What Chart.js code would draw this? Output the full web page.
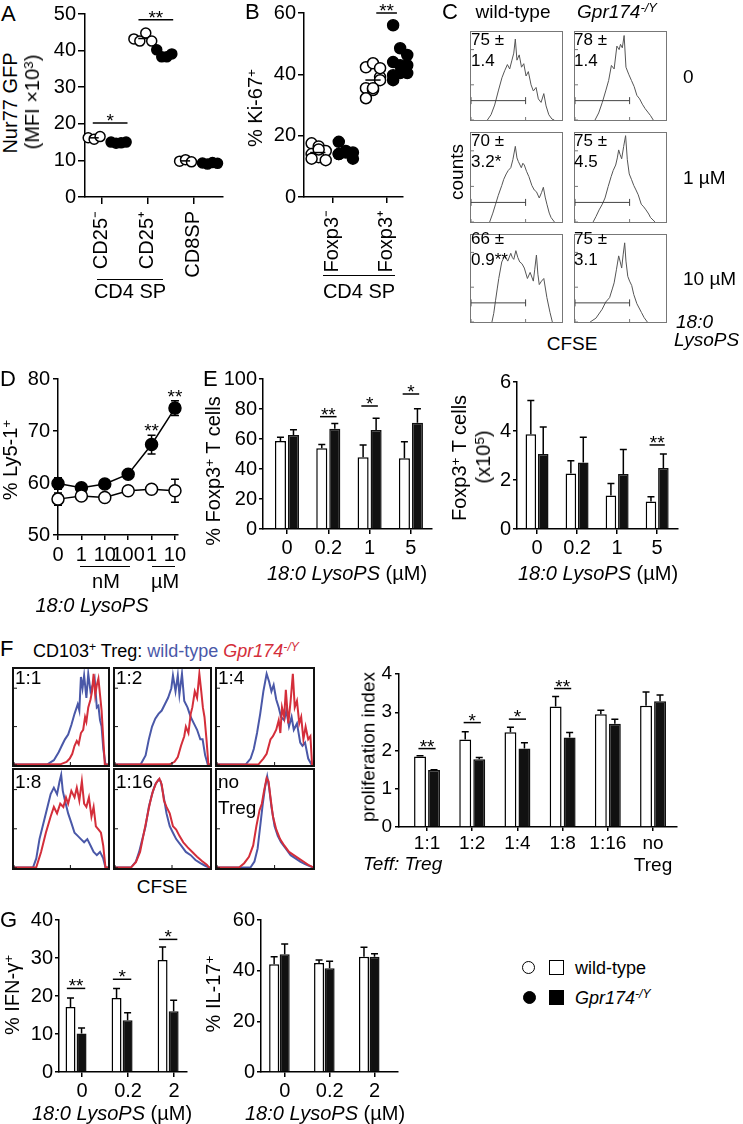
<!DOCTYPE html>
<html>
<head>
<meta charset="utf-8">
<script src="https://cdn.jsdelivr.net/npm/chart.js@4.4.1/dist/chart.umd.min.js"></script>
<style>
html, body { margin: 0; padding: 0; background: #fff; }
#fig { position: relative; width: 743px; height: 1124px; overflow: hidden; font-family: 'Liberation Sans', Arial, Helvetica, sans-serif; color: #000; }
#fig div { position: absolute; white-space: nowrap; line-height: 1; }
#fig canvas { position: absolute; }
.s { position: relative; top: -0.45em; font-size: 0.68em; }
</style>
</head>
<body>
<div id="fig"></div>
<script>
// ---------- data ----------
const aGroups = ['CD25⁻', 'CD25⁺', 'CD8SP'];
const aWT = [[16.2, 15.8, 16.5], [43.2, 42.6, 44.8, 42.6], [9.8, 10.2, 9.6]];
const aKO = [[15.0, 14.7, 14.8, 15.0], [40.2, 38.3, 38.3, 39.1], [9.3, 9.0, 9.4, 9.2]];
const aSig = [{at: 1, y: 20.2, label: '*'}, {at: 2, y: 48.4, label: '**'}];

const bGroups = ['Foxp3⁻', 'Foxp3⁺'];
const bWT = [[17.5, 16.5, 15, 14, 13, 12, 12.5, 15.5], [42.3, 43.6, 39.1, 35.5, 34.9, 38.1, 32.2, 35.5, 42.0]];
const bKO = [[18, 15, 14.5, 14, 14.5, 12.5, 14], [56.0, 48.5, 46.3, 44.0, 43.0, 43.0, 39.7, 40.4, 40.4, 38.1]];
const bSig = [{at: 2, y: 60, label: '**'}];

// CFSE histograms (x = % of box width, y = % of box height)
const cWT0 = [[18,0],[22,6],[26,17],[30,33],[34,48],[37,56],[40,63],[42.5,58],[45,68],[47,76],[48.7,92],[50.5,68],[53,74],[55.5,60],[58,64],[60.5,50],[63,55],[66,40],[68.5,33],[71.5,37],[74,24],[77,20],[80,30],[82.5,16],[85.5,6],[89,1],[91.5,0]];
const cKO0 = [[22,0],[26,8],[30,20],[34,34],[37,45],[40,62],[43,58],[46,84],[48.5,80],[50,86],[52,82],[54,96],[56,60],[59,52],[62,45],[65,38],[68,28],[71,24],[74,18],[77,13],[80,9],[83,5],[86,0]];
const cWT1 = [[20.5,0],[24,10],[27,20],[30,30],[33.8,41],[36,48],[38.7,54],[41,58],[43.7,61],[46,70],[48.7,85],[50.5,72],[52,68],[55.3,61],[57,66],[58.6,64],[61,57],[63.6,51],[66.9,41],[69.5,36],[71.9,34],[75,27],[77.5,33],[79.5,39],[81.5,28],[83.4,20],[86,10],[88,5],[91.7,0]];
const cKO1 = [[19.9,0],[23,6],[26.5,13.6],[30,20],[33,27],[36.5,40],[39.7,51],[42,58],[44.7,64],[46.5,72],[48,81],[49.5,76],[51.3,71],[53.5,85],[55.6,97],[57.5,70],[59.6,54],[62,48],[64.6,41],[67,36],[69.5,30.5],[72.8,20],[75.5,17],[78,13.6],[81,9],[83,5],[88,0]];
const cWT2 = [[23,0],[25,10],[27,25],[28.8,38],[30.5,50],[33.8,69],[37,76],[40.4,70],[43.7,79],[45.5,74],[47,72],[49.3,82],[51.5,74],[53.6,69],[56,67],[58.6,62],[62,50],[65,57],[68.5,47],[70,60],[71.9,77],[73.5,55],[75,43],[77.5,47],[80,50],[83.4,28],[86.8,11],[89.4,0]];
const cKO2 = [[16.6,0],[23,4.4],[29.8,14.6],[33.8,23],[38,28],[41,38],[43,45],[45.5,60],[48,76],[49.5,70],[51.3,62],[53,78],[54.6,91],[56,70],[58,52.5],[60,47],[62.3,42],[64.6,31.5],[68,21],[73,11],[76,5],[79.5,0]];
const cGate = [[0, 22], [60, 22]];
const cWTtext = ['75 ±<br>1.4', '70 ±<br>3.2*', '66 ±<br>0.9**'];
const cKOtext = ['78 ±<br>1.4', '75 ±<br>4.5', '75 ±<br>3.1'];
const cDoses = ['0', '1 µM', '10 µM'];

const dLabels = ['0', '1', '10', '100', '1', '10'];
const dWT = [56.9, 57.5, 57.2, 58.5, 58.8, 58.5];
const dWTerr = [1.2, 0.5, 0.6, 0.4, 0.5, 2.2];
const dKO = [59.9, 59.1, 59.8, 61.7, 67.4, 74.4];
const dKOerr = [1.1, 0.5, 0.8, 0.5, 1.8, 1.4];
const dSig = [{at: 4, y: 68.8, label: '**'}, {at: 5, y: 75.4, label: '**'}];

const eLabels = ['0', '0.2', '1', '5'];
const ePctWT = [58.7, 53.8, 47.8, 47.1];
const ePctWTerr = [2.4, 2.6, 8.2, 11];
const ePctKO = [62.7, 66.9, 66, 70.9];
const ePctKOerr = [3.5, 3.5, 7.8, 9.3];
const ePctSig = [{at: 2, y: 74.9, label: '**'}, {at: 3, y: 82, label: '*'}, {at: 4, y: 90, label: '*'}];
const eNumWT = [3.87, 2.27, 1.37, 1.12];
const eNumWTerr = [1.37, 0.52, 0.49, 0.2];
const eNumKO = [3.06, 2.71, 2.24, 2.49];
const eNumKOerr = [1.1, 1.03, 1.0, 0.57];
const eNumSig = [{at: 4, y: 3.43, label: '**'}];

const fRatios = ['1:1', '1:2', '1:4', '1:8', '1:16', ['no', 'Treg']];
const fBoxText = ['1:1', '1:2', '1:4', '1:8', '1:16', 'no<br>Treg'];
const f11B = [[0,0.5],[35.6,0.7],[42.4,5],[47.5,13.3],[50.8,20],[54.2,26.7],[57.6,31.7],[61,41.7],[64.4,53.3],[67.8,63.3],[69.5,56.7],[71.2,91.7],[72.9,80],[74.6,93.3],[77,70],[79,95],[81.4,76.7],[83.7,83.3],[85.8,90],[88.1,60],[89.8,61.7],[91.5,46.7],[93.2,40],[95,16.7],[97.3,0.7],[100,0.5]];
const f11R = [[0,0.5],[49.2,0.7],[55.9,3.3],[59.3,6.7],[62,11.7],[64.4,20],[66.8,25],[68.8,21.7],[71.2,33.3],[73.6,36.7],[75.6,50],[77,45],[79,60],[81.4,68.3],[83,76.7],[84.7,95],[86.4,73.3],[88.1,83.3],[89.8,90],[91.5,73.3],[93.2,56.7],[95,26.7],[96.6,0.7],[100,0.5]];
const f12B = [[0,0.5],[27.1,0.7],[32.2,10],[35.6,26.7],[39,40],[42.4,48.3],[45.8,53.3],[49.2,56.7],[52.5,63.3],[55.9,70],[59.3,80],[61,93.3],[63.7,76.7],[66.1,93.3],[67.8,73.3],[70.5,95],[72.9,66.7],[76.3,60],[79.7,50],[83,43.3],[86.4,36.7],[89.8,26.7],[92.2,26.7],[94.9,10],[97.6,0.7],[100,0.5]];
const f12R = [[0,0.5],[57.6,0.7],[62.7,3.3],[66.1,8.3],[69.5,20],[72.9,30],[74.6,40],[77.3,33.3],[79.7,53.3],[81.4,60],[84,76.7],[86.4,70],[88.8,95],[90.8,76.7],[92.5,60],[94.2,50],[96.3,26.7],[98.3,0.7],[100,0.5]];
const f14B = [[0,0.5],[30,0.7],[35,6.7],[38.3,16.7],[41.7,33.3],[45,53.3],[48.3,76.7],[51.7,95],[54.3,86.7],[56.7,76.7],[59,83.3],[61.7,68.3],[64.3,60],[66.7,50],[70,46.7],[72.3,56.7],[75,40],[77.7,50],[80,36.7],[83.3,43.3],[86.7,23.3],[89,20],[91.7,23.3],[95,6.7],[98.3,0.7],[100,0.5]];
const f14R = [[0,0.5],[43.3,0.7],[48.3,6.7],[51.7,11.7],[55.7,26.7],[58.3,30],[61.7,36.7],[64.3,46.7],[66,33.3],[67.7,60],[70,50],[71.7,78.3],[74.3,43.3],[76.7,66.7],[79,95],[81,60],[83.3,66.7],[85.7,43.3],[87.7,50],[90,26.7],[92.3,40],[95,26.7],[97.3,30],[99,0.7],[100,0.5]];
const f18B = [[0,0.5],[20.3,0.7],[23.7,9.8],[27.1,29.5],[30.5,42.6],[35.6,62.3],[39,75.4],[42.4,82],[45.8,75.4],[48.5,88.5],[50.2,95],[51.9,78.7],[54.2,68.9],[57.6,55.7],[61,46],[64.4,36],[67.8,32.8],[71.2,29.5],[74.6,26.2],[78,29.5],[81.4,23],[84.7,16.4],[88.1,13.1],[91.5,16.4],[94.9,9.8],[97.3,0.7],[100,0.5]];
const f18R = [[0,0.5],[23.7,0.7],[28.8,16.4],[33.9,36],[39,52.5],[42.4,62.3],[45.8,55.7],[49.2,65.6],[52.5,62.3],[55.3,72.1],[57.6,65.6],[61,78.7],[64.4,72.1],[66.8,82],[69.5,68.9],[72.2,88.5],[74.6,65.6],[77,62.3],[79.7,72.1],[82.4,52.5],[84.7,62.3],[87.1,42.6],[89.8,39.3],[92.5,36],[94.9,23],[97.3,0.7],[100,0.5]];
const f116B = [[0,0.5],[17,0.7],[22,6.6],[25.4,16.4],[28.8,29.5],[32.2,42.6],[35.6,62.3],[39,75.4],[42.4,85.2],[45.8,90.2],[48.1,88.5],[50.8,75.4],[54.2,55.7],[57.6,42.6],[61,36],[64.4,29.5],[69.5,23],[74.6,16.4],[79.7,13.1],[84.7,8.2],[89.8,4.9],[94.9,2.3],[98.3,0.7],[100,0.5]];
const f116R = [[0,0.5],[17,0.7],[22,5.9],[26.4,16.4],[29.8,32.8],[33.2,49.2],[36.6,65.6],[40,78.7],[43.4,86.9],[46.8,91.1],[49.2,85.2],[51.5,68.9],[54.2,62.3],[57.6,55.7],[61,42.6],[64.4,39.3],[67.8,32.8],[71.9,26.2],[76.3,21.3],[81.4,16.4],[86.4,11.5],[91.5,7.2],[96.6,3.3],[99,0.7],[100,0.5]];
const fNoB = [[0,0.5],[35,0.7],[39,6.6],[42.3,19.7],[45,42.6],[47.7,65.6],[50,82],[52.3,93.4],[54.3,82],[56.7,62.3],[60,42.6],[63.3,32.8],[66.7,26.2],[71.7,19.7],[76.7,13.1],[81.7,9.8],[86.7,6.6],[91.7,3.9],[98.3,1.3],[100,0.5]];
const fNoR = [[0,0.5],[23.3,0.7],[28.3,4.9],[33.3,11.5],[37.7,23],[41,42.6],[44.3,59],[46.7,65.6],[49,78.7],[51.7,91.8],[53.7,88.5],[55.7,72.1],[58.3,52.5],[61.7,39.3],[65.7,29.5],[70,23],[75,16.4],[80,13.1],[85,9.8],[90,6.6],[95,3.3],[99,1.3],[100,0.5]];
const fWT = [1.84, 2.29, 2.48, 3.15, 2.95, 3.17];
const fWTerr = [0.02, 0.2, 0.13, 0.26, 0.1, 0.36];
const fKO = [1.49, 1.77, 2.05, 2.34, 2.7, 3.29];
const fKOerr = [0.01, 0.05, 0.15, 0.13, 0.12, 0.16];
const fSig = [{at: 1, y: 2.05, label: '**'}, {at: 2, y: 2.73, label: '*'}, {at: 3, y: 2.82, label: '*'}, {at: 4, y: 3.62, label: '**'}];

const gLabels = ['0', '0.2', '2'];
const gIfnWT = [17.1, 19.5, 29.5];
const gIfnWTerr = [2.4, 2.5, 3.4];
const gIfnKO = [10.1, 13.6, 16];
const gIfnKOerr = [1.5, 2, 2.9];
const gIfnSig = [{at: 1, y: 22, label: '**'}, {at: 2, y: 24.4, label: '*'}, {at: 3, y: 34.9, label: '*'}];
const gIl17WT = [42.5, 43, 45.5];
const gIl17WTerr = [3, 1.2, 3.7];
const gIl17KO = [46.5, 41, 45.5];
const gIl17KOerr = [4, 2.7, 1.2];

// ---------- helpers ----------
const FONT = "'Liberation Sans', Arial, Helvetica, sans-serif";
Chart.defaults.font.family = FONT;
Chart.defaults.font.size = 20;
Chart.defaults.color = '#000';

const fig = document.getElementById('fig');
const BLUE = '#4a58a8';
const RED = '#d42e3a';
const sup = s => `<span class="s">${s}</span>`;

function text(html, x, base, size, align, extra) {
    const d = document.createElement('div');
    d.innerHTML = html;
    const tf = align === 'center' ? 'translateX(-50%)' : align === 'right' ? 'translateX(-100%)' : 'none';
    d.style.cssText = `left:${x}px;top:${(base - 0.8465 * size).toFixed(1)}px;font-size:${size}px;transform:${tf};` + (extra || '');
    fig.appendChild(d);
}

function vtext(html, cx, cy, size) {
    const d = document.createElement('div');
    d.innerHTML = html;
    d.style.cssText = `left:${cx}px;top:${cy}px;font-size:${size}px;transform:translate(-50%,-50%) rotate(-90deg);`;
    fig.appendChild(d);
}

function hline(x1, x2, y, w) {
    const d = document.createElement('div');
    d.style.cssText = `left:${x1}px;top:${y - w / 2}px;width:${x2 - x1}px;height:0;border-top:${w}px solid #000;`;
    fig.appendChild(d);
}

function shape(cx, cy, size, round, filled) {
    const d = document.createElement('div');
    d.style.cssText = `left:${cx - size / 2}px;top:${cy - size / 2}px;width:${size}px;height:${size}px;box-sizing:border-box;border:1.5px solid #000;background:${filled ? '#000' : '#fff'};border-radius:${round ? '50%' : '0'};`;
    fig.appendChild(d);
}

function canvasAt(L, T, W, H) {
    const c = document.createElement('canvas');
    c.width = W;
    c.height = H;
    c.style.left = L + 'px';
    c.style.top = T + 'px';
    c.style.width = W + 'px';
    c.style.height = H + 'px';
    fig.appendChild(c);
    return c;
}

// error bars, mean lines and significance marks
function drawErrors(chart, o) {
    if (!o.errors) return;
    const ctx = chart.ctx, ys = chart.scales.y;
    ctx.save();
    ctx.strokeStyle = '#000';
    ctx.lineWidth = 1.5;
    o.errors.forEach((errs, di) => {
        if (!errs) return;
        const meta = chart.getDatasetMeta(di);
        const vals = chart.data.datasets[di].data;
        meta.data.forEach((el, i) => {
            const v = vals[i].y;
            const top = ys.getPixelForValue(v + errs[i]);
            const bot = ys.getPixelForValue(o.both ? v - errs[i] : v);
            ctx.beginPath();
            ctx.moveTo(el.x, bot);
            ctx.lineTo(el.x, top);
            ctx.moveTo(el.x - o.cap, top);
            ctx.lineTo(el.x + o.cap, top);
            if (o.both) {
                ctx.moveTo(el.x - o.cap, bot);
                ctx.lineTo(el.x + o.cap, bot);
            }
            ctx.stroke();
        });
    });
    ctx.restore();
}

function drawMeans(chart, o) {
    if (!o.meanHalf) return;
    const ctx = chart.ctx, xs = chart.scales.x, ys = chart.scales.y;
    ctx.save();
    ctx.strokeStyle = '#000';
    ctx.lineWidth = 1.5;
    chart.data.datasets.forEach(ds => {
        const groups = {};
        ds.data.forEach(p => {
            (groups[p.g] = groups[p.g] || []).push(p);
        });
        Object.values(groups).forEach(pts => {
            const mx = pts.reduce((s, p) => s + p.x, 0) / pts.length;
            const my = pts.reduce((s, p) => s + p.y, 0) / pts.length;
            ctx.beginPath();
            ctx.moveTo(xs.getPixelForValue(mx - o.meanHalf), ys.getPixelForValue(my));
            ctx.lineTo(xs.getPixelForValue(mx + o.meanHalf), ys.getPixelForValue(my));
            ctx.stroke();
        });
    });
    ctx.restore();
}

function drawSig(chart, o) {
    if (!o.sig) return;
    const ctx = chart.ctx, xs = chart.scales.x, ys = chart.scales.y;
    ctx.save();
    ctx.strokeStyle = '#000';
    ctx.fillStyle = '#000';
    ctx.lineWidth = 1.5;
    ctx.font = `19px ${FONT}`;
    ctx.textAlign = 'center';
    ctx.textBaseline = 'alphabetic';
    o.sig.forEach(s => {
        const cx = s.at + (o.sigShift || 0);
        const py = ys.getPixelForValue(s.y);
        if (o.sigHalf) {
            ctx.beginPath();
            ctx.moveTo(xs.getPixelForValue(cx - o.sigHalf), py);
            ctx.lineTo(xs.getPixelForValue(cx + o.sigHalf), py);
            ctx.stroke();
        }
        ctx.fillText(s.label, xs.getPixelForValue(cx), py + (o.sigHalf ? 4 : 0));
    });
    ctx.restore();
}

const extrasPlugin = {
    id: 'extras',
    beforeDatasetsDraw(chart) {
        const o = chart.canvas._extras || {};
        if (o.behind) drawErrors(chart, o);
    },
    afterDatasetsDraw(chart) {
        const o = chart.canvas._extras || {};
        if (!o.behind) drawErrors(chart, o);
        drawMeans(chart, o);
        drawSig(chart, o);
    }
};

const framePlugin = {
    id: 'frame',
    afterDatasetsDraw(chart) {
        const f = chart.canvas._frame, a = chart.chartArea, ctx = chart.ctx;
        ctx.save();
        ctx.strokeStyle = f.color;
        ctx.lineWidth = f.lw;
        ctx.strokeRect(a.left - f.lw / 2, a.top - f.lw / 2, a.right - a.left + f.lw, a.bottom - a.top + f.lw);
        ctx.lineWidth = 1;
        ctx.beginPath();
        chart.scales.x.ticks.forEach(t => {
            const px = chart.scales.x.getPixelForValue(t.value);
            ctx.moveTo(px, a.bottom);
            ctx.lineTo(px, a.bottom - f.tick);
        });
        chart.scales.y.ticks.forEach(t => {
            const py = chart.scales.y.getPixelForValue(t.value);
            ctx.moveTo(a.left, py);
            ctx.lineTo(a.left + f.tick, py);
        });
        ctx.stroke();
        ctx.restore();
    }
};

function catX(min, max, cats, labels, o = {}) {
    const shift = o.shift || 0;
    return {
        type: 'linear', min, max, offset: false,
        afterBuildTicks: s => { s.ticks = cats.map(v => ({value: v + shift})); },
        ticks: {
            autoSkip: false, padding: o.pad ?? 2,
            minRotation: o.rot || 0, maxRotation: o.rot || 0,
            font: {size: o.size || 20},
            callback: (v, i) => labels[i]
        },
        grid: {drawOnChartArea: false, offset: false, tickLength: o.tick || 5, color: '#000', lineWidth: 1.5},
        border: {color: '#000', width: 1.5}
    };
}

function valY(min, max, step, o = {}) {
    return {
        min, max,
        ticks: {stepSize: step, padding: o.pad ?? 2, font: {size: o.size || 20}},
        grid: {drawOnChartArea: false, tickLength: o.tick || 5, color: '#000', lineWidth: 1.5},
        border: {color: '#000', width: 1.5}
    };
}

function axisChart(plot, m, type, datasets, x, y, extras) {
    const [pl, pt, pr, pb] = plot;
    const c = canvasAt(pl - m.left, pt - m.top, m.left + pr - pl + m.right, m.top + pb - pt + m.bottom);
    c._extras = extras;
    x.afterFit = s => { s.height = m.bottom; };
    y.afterFit = s => { s.width = m.left; };
    return new Chart(c, {
        type,
        data: {datasets},
        options: {
            responsive: false, animation: false, events: [],
            layout: {padding: {top: m.top, right: m.right, left: 0, bottom: 0}},
            plugins: {legend: {display: false}, tooltip: {enabled: false}},
            scales: {x, y}
        },
        plugins: [extrasPlugin]
    });
}

function pointSet(pts, filled, r) {
    return {
        data: pts, showLine: false, clip: false,
        pointRadius: r, pointBorderWidth: 1.5, pointBorderColor: '#000',
        pointBackgroundColor: filled ? '#000' : '#fff'
    };
}

function barSets(cats, wt, ko, cp, bp) {
    const base = {borderWidth: 1.5, categoryPercentage: cp, barPercentage: bp};
    return [
        Object.assign({data: wt.map((v, i) => ({x: cats[i], y: v})), backgroundColor: '#fff', borderColor: '#000'}, base),
        Object.assign({data: ko.map((v, i) => ({x: cats[i], y: v})), backgroundColor: '#111', borderColor: '#111'}, base)
    ];
}

function histChart(box, curves, frame) {
    const [x0, y0, x1, y1] = box;
    const c = canvasAt(x0, y0, x1 - x0, y1 - y0);
    c._frame = frame;
    new Chart(c, {
        type: 'line',
        data: {
            datasets: curves.map(cv => Object.assign({
                data: cv.pts.map(p => ({x: p[0], y: p[1]})),
                borderColor: cv.color, borderWidth: cv.width,
                pointRadius: 0, tension: 0, clip: false
            }, cv.gate ? {pointStyle: 'line', pointRotation: 90, pointRadius: 3.5, pointBorderColor: cv.color, pointBorderWidth: 1} : {}))
        },
        options: {
            responsive: false, animation: false, events: [],
            layout: {padding: frame.lw},
            plugins: {legend: {display: false}, tooltip: {enabled: false}},
            scales: {
                x: {type: 'linear', min: 0, max: 100, display: false, ticks: {stepSize: frame.xStep}},
                y: {min: 0, max: 100, display: false, ticks: {stepSize: frame.yStep}}
            }
        },
        plugins: [framePlugin]
    });
}

// ---------- A ----------
const aPts = (groups, start, step) => groups.flatMap((vals, g) => vals.map((v, i) => ({x: g + 1 + start + i * step, y: v, g})));
axisChart([85, 14, 223, 197], {left: 60, top: 20, right: 15, bottom: 95}, 'scatter',
    [pointSet(aPts(aKO, 0.2, 0.11), true, 5), pointSet(aPts(aWT, -0.3, 0.13), false, 5)],
    catX(0.63, 3.65, [1, 2, 3], aGroups, {rot: 90, pad: 7, tick: 7}),
    valY(0, 50, 10, {tick: 7, pad: 2}),
    {sig: aSig, sigHalf: 0.38, sigShift: 0.18, meanHalf: 0.1});

// ---------- B ----------
const bPts = (groups, start) => groups.flatMap((vals, g) => vals.map((v, i) => ({x: g + 1 + start + (i % 3) * 0.13, y: v, g})));
axisChart([304, 13, 405, 197], {left: 55, top: 20, right: 15, bottom: 95}, 'scatter',
    [pointSet(bPts(bKO, 0.12), true, 5.5), pointSet(bPts(bWT, -0.38), false, 5.5)],
    catX(0.48, 2.29, [1, 2], bGroups, {rot: 90, pad: 7, tick: 6}),
    valY(0, 60, 20, {tick: 6, pad: 2}),
    {sig: bSig, sigHalf: 0.19, meanHalf: 0.14});

// ---------- C ----------
const cCols = [[466, 567], [570, 671]];
const cRows = [[27, 125], [128, 227], [230, 327]];
const cFrame = {lw: 1, color: '#777', tick: 3, xStep: 10, yStep: 20};
[[cWT0, cKO0], [cWT1, cKO1], [cWT2, cKO2]].forEach((pair, r) => {
    pair.forEach((pts, col) => {
        histChart([cCols[col][0], cRows[r][0], cCols[col][1], cRows[r][1]], [
            {pts: cGate, color: '#444', width: 1, gate: true},
            {pts, color: '#555', width: 1}
        ], cFrame);
    });
});

// ---------- D ----------
const dPts = vals => vals.map((v, i) => ({x: i, y: v}));
const dLine = (vals, filled) => ({
    data: dPts(vals), clip: false, borderColor: '#000', borderWidth: 1.5,
    pointRadius: 6, pointBorderWidth: 1.5, pointBorderColor: '#000',
    pointBackgroundColor: filled ? '#000' : '#fff', tension: 0
});
axisChart([58, 379, 178, 535], {left: 55, top: 20, right: 25, bottom: 35}, 'line',
    [dLine(dWT, false), dLine(dKO, true)],
    catX(0, 5.13, [0, 1, 2, 3, 4, 5], dLabels, {pad: 3, tick: 5}),
    valY(50, 80, 10, {tick: 5, pad: 3}),
    {errors: [dWTerr, dKOerr], both: true, behind: true, cap: 4, sig: dSig, sigHalf: 0});

// ---------- E ----------
axisChart([263, 379, 432, 529], {left: 62, top: 20, right: 15, bottom: 35}, 'bar',
    barSets([1, 2, 3, 4], ePctWT, ePctKO, 0.63, 0.85),
    catX(0.42, 4.51, [1, 2, 3, 4], eLabels, {pad: 2}),
    valY(0, 100, 20, {tick: 4, pad: 2}),
    {errors: [ePctWTerr, ePctKOerr], cap: 3.5, sig: ePctSig, sigHalf: 0.2});

axisChart([517, 382, 678, 529], {left: 40, top: 20, right: 15, bottom: 35}, 'bar',
    barSets([1, 2, 3, 4], eNumWT, eNumKO, 0.62, 0.85),
    catX(0.5, 4.52, [1, 2, 3, 4], eLabels, {pad: 2}),
    valY(0, 6, 2, {tick: 4, pad: 2}),
    {errors: [eNumWTerr, eNumKOerr], cap: 3.5, sig: eNumSig, sigHalf: 0.19});

// ---------- F ----------
const fCols = [[12, 110], [113, 212], [215, 315]];
const fRows = [[667, 767], [768, 870]];
const fFrame = {lw: 2, color: '#111', tick: 3, xStep: 10, yStep: 20};
[[f11B, f11R], [f12B, f12R], [f14B, f14R], [f18B, f18R], [f116B, f116R], [fNoB, fNoR]].forEach((pair, k) => {
    const col = k % 3, row = Math.floor(k / 3);
    histChart([fCols[col][0], fRows[row][0], fCols[col][1], fRows[row][1]], [
        {pts: pair[1], color: RED, width: 2},
        {pts: pair[0], color: BLUE, width: 2}
    ], fFrame);
});

axisChart([399, 674, 677, 827], {left: 40, top: 20, right: 15, bottom: 60}, 'bar',
    barSets([1, 2, 3, 4, 5, 6], fWT, fKO, 0.62, 0.85),
    catX(0.38, 6.53, [1, 2, 3, 4, 5, 6], fRatios, {pad: 1, size: 19, tick: 4}),
    valY(0, 4, 1, {tick: 4, pad: 3, size: 19}),
    {errors: [fWTerr, fKOerr], cap: 3.5, sig: fSig, sigHalf: 0.19});

// ---------- G ----------
axisChart([59, 920, 187, 1072], {left: 45, top: 20, right: 12, bottom: 35}, 'bar',
    barSets([1, 2, 3], gIfnWT, gIfnKO, 0.48, 0.9),
    catX(0.63, 3.41, [1, 2, 3], gLabels, {pad: 2, shift: 0.13}),
    valY(0, 40, 10, {tick: 4, pad: 2}),
    {errors: [gIfnWTerr, gIfnKOerr], cap: 3.5, sig: gIfnSig, sigHalf: 0.2});

axisChart([261, 920, 398, 1072], {left: 45, top: 20, right: 12, bottom: 35}, 'bar',
    barSets([1, 2, 3], gIl17WT, gIl17KO, 0.47, 0.95),
    catX(0.59, 3.64, [1, 2, 3], gLabels, {pad: 2, shift: 0.12}),
    valY(0, 60, 20, {tick: 4, pad: 2}),
    {errors: [gIl17WTerr, gIl17KOerr], cap: 3.5});

// ---------- text ----------
// panel letters
[['A', 1, 22], ['B', 245, 20], ['C', 442, 20], ['D', 0, 387], ['E', 203, 387], ['F', 0, 657], ['G', 0, 928]]
    .forEach(([t, x, b]) => text(t, x, b, 22));

// A
vtext('Nur77 GFP', 10, 103, 20);
vtext('(MFI ×10' + sup('3') + ')', 32, 102, 20);
hline(97, 163, 280, 1.5);
text('CD4 SP', 130, 298, 20, 'center');

// B
vtext('% Ki-67' + sup('+'), 255, 108, 20);
hline(323, 395, 276, 1.5);
text('CD4 SP', 359, 298, 20, 'center');

// C
text('wild-type', 513, 18, 19, 'center');
text('<i>Gpr174' + sup('-/Y') + '</i>', 617, 18, 19, 'center');
vtext('counts', 456, 172, 19);
const cTextBase = [17, 17, 13];
cRows.forEach((r, i) => {
    text(cWTtext[i], cCols[0][0] + 5, r[0] + cTextBase[i], 17, 'left', 'line-height:21px;top:' + (r[0] + cTextBase[i] - 15.5) + 'px;');
    text(cKOtext[i], cCols[1][0] + 4, r[0] + cTextBase[i], 17, 'left', 'line-height:21px;top:' + (r[0] + cTextBase[i] - 15.5) + 'px;');
    text(cDoses[i], 683, (r[0] + r[1]) / 2 + 7, 19);
});
text('CFSE', 572, 350, 19, 'center');
text('<i>18:0</i>', 676, 328, 19);
text('<i>LysoPS</i>', 674, 346, 19);

// D
vtext('% Ly5-1' + sup('+'), 10, 460, 20);
hline(80, 130, 567, 1.5);
hline(152, 175, 567, 1.5);
text('nM', 106, 588, 20, 'center');
text('µM', 165, 588, 20, 'center');
text('<i>18:0 LysoPS</i>', 92, 612, 20, 'center');

// E
vtext('% Foxp3' + sup('+') + ' T cells', 213, 471, 20);
text('<i>18:0 LysoPS</i> (µM)', 347, 580, 20, 'center');
vtext('Foxp3' + sup('+') + ' T cells', 459, 458, 20);
vtext('(x10' + sup('5') + ')', 483, 457, 20);
text('<i>18:0 LysoPS</i> (µM)', 598, 580, 20, 'center');

// F
text('CD103' + sup('+') + ' Treg: <span style="color:' + BLUE + '">wild-type</span> <i style="color:' + RED + '">Gpr174' + sup('-/Y') + '</i>', 33, 657, 18);
fBoxText.forEach((t, k) => {
    const col = k % 3, row = Math.floor(k / 3);
    const base = fRows[row][0] + (row ? 20 : 17);
    text(t, fCols[col][0] + 3, base, 19, 'left', 'line-height:26px;top:' + (base - 19.5) + 'px;');
});
text('CFSE', 162, 893, 19, 'center');
vtext('proliferation index', 368, 747, 19);
text('<i>Teff: Treg</i>', 363, 870, 19);

// G
vtext('% IFN-γ' + sup('+'), 12, 995, 20);
text('<i>18:0 LysoPS</i> (µM)', 112, 1120, 20, 'center');
vtext('% IL-17' + sup('+'), 213, 994, 20);
text('<i>18:0 LysoPS</i> (µM)', 325, 1120, 20, 'center');

// legend
shape(528, 967, 13, true, false);
shape(556, 967, 15, false, false);
shape(529, 997, 13, true, true);
shape(556, 997, 15, false, true);
text('wild-type', 575, 974, 18);
text('<i>Gpr174</i>' + sup('<i>-/Y</i>'), 575, 1004, 18);
</script>
</body>
</html>
